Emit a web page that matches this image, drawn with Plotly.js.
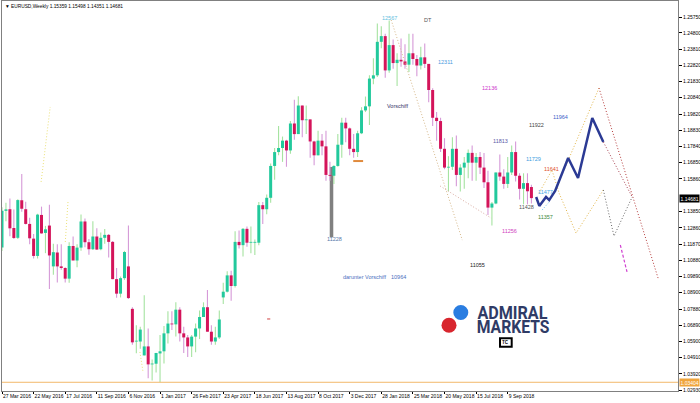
<!DOCTYPE html>
<html><head><meta charset="utf-8">
<script src="https://cdn.plot.ly/plotly-3.0.1.min.js"></script>
<style>html,body{margin:0;padding:0;background:#fff;}#chart{width:700px;height:403px;}</style>
</head><body><div id="chart"></div>
<script>
// ---- Weekly EURUSD candles, week of 27 Mar 2016 .. week of 21 Oct 2018 ----
const opens = [1.1165,1.1390,1.1400,1.1285,1.1225,1.1455,1.1400,1.1310,1.1220,1.1114,
1.1365,1.1255,1.1300,1.1050,1.1135,1.1050,1.1040,1.0975,1.1175,1.1086,
1.1165,1.1325,1.1198,1.1155,1.1233,1.1155,1.1225,1.1243,1.1200,1.0972,
1.0883,1.0978,1.1050,1.0790,1.0590,1.0590,1.0505,1.0560,1.0450,1.0454,
1.0517,1.0530,1.0640,1.0700,1.0695,1.0785,1.0640,1.0615,1.0560,1.0620,
1.0670,1.0740,1.0800,1.0650,1.0590,1.0615,1.0860,1.0895,1.0995,1.0930,
1.1200,1.1180,1.1280,1.1195,1.1195,1.1195,1.1425,1.1400,1.1470,1.1665,
1.1750,1.1775,1.1820,1.1760,1.1925,1.1860,1.2035,1.1945,1.1950,1.1815,
1.1730,1.1820,1.1785,1.1610,1.1605,1.1665,1.1795,1.1930,1.1895,1.1770,
1.1750,1.1865,1.2005,1.2030,1.2200,1.2220,1.2425,1.2460,1.2250,1.2405,
1.2295,1.2315,1.2305,1.2285,1.2355,1.2320,1.2280,1.2330,1.2290,1.2130,
1.1960,1.1940,1.1770,1.1655,1.1660,1.1770,1.1610,1.1655,1.1685,1.1745,
1.1685,1.1720,1.1655,1.1565,1.1410,1.1435,1.1625,1.1600,1.1555,1.1625,
1.1750,1.1605,1.1525,1.1560,1.15359];
const highs = [1.1412,1.1439,1.1465,1.1399,1.1461,1.1616,1.1446,1.1348,1.1249,1.1372,
1.1416,1.1298,1.1428,1.1188,1.1186,1.1185,1.1044,1.1198,1.1233,1.1186,
1.1367,1.1343,1.1218,1.1327,1.1283,1.1257,1.1279,1.1248,1.1206,1.1040,
1.0988,1.1145,1.1300,1.0800,1.0690,1.0680,1.0874,1.0670,1.0480,1.0490,
1.0630,1.0685,1.0775,1.0775,1.0830,1.0800,1.0680,1.0630,1.0630,1.0700,
1.0780,1.0830,1.0906,1.0690,1.0680,1.0780,1.0950,1.1020,1.1023,1.1265,
1.1270,1.1285,1.1295,1.1295,1.1215,1.1445,1.1445,1.1490,1.1680,1.1775,
1.1910,1.1845,1.1825,1.1940,1.2070,1.2092,1.2035,1.2035,1.1950,1.1820,
1.1880,1.1860,1.1880,1.1690,1.1670,1.1860,1.1960,1.1960,1.1900,1.1860,
1.1880,1.2025,1.2090,1.2220,1.2325,1.2537,1.2520,1.2475,1.2555,1.2440,
1.2355,1.2445,1.2410,1.2475,1.2475,1.2345,1.2395,1.2415,1.2290,1.2140,
1.1995,1.1960,1.1835,1.1725,1.1840,1.1852,1.1675,1.1720,1.1765,1.1790,
1.1745,1.1750,1.1745,1.1635,1.1445,1.1625,1.1735,1.1645,1.1720,1.1790,
1.1815,1.1620,1.1620,1.1620,1.15498];
const lows = [1.1144,1.1327,1.1234,1.1218,1.1217,1.1384,1.1306,1.1186,1.1098,1.1098,
1.1250,1.1131,1.0912,1.0999,1.0952,1.1030,1.0952,1.0950,1.1090,1.1045,
1.1146,1.1167,1.1122,1.1150,1.1150,1.1149,1.1188,1.1105,1.0972,1.0858,
1.0860,1.0967,1.0850,1.0570,1.0518,1.0545,1.0505,1.0365,1.0352,1.0400,
1.0340,1.0455,1.0578,1.0660,1.0620,1.0590,1.0520,1.0495,1.0495,1.0525,
1.0605,1.0740,1.0650,1.0570,1.0570,1.0605,1.0820,1.0890,1.0840,1.0920,
1.1160,1.1110,1.1170,1.1130,1.1120,1.1180,1.1310,1.1370,1.1440,1.1580,
1.1730,1.1690,1.1660,1.1740,1.1825,1.1860,1.1840,1.1860,1.1715,1.1670,
1.1730,1.1730,1.1575,1.1575,1.1554,1.1660,1.1715,1.1810,1.1730,1.1715,
1.1720,1.1860,1.1995,1.1915,1.2165,1.2210,1.2385,1.2205,1.2235,1.2260,
1.2155,1.2272,1.2260,1.2240,1.2285,1.2215,1.2255,1.2265,1.2055,1.1910,
1.1820,1.1750,1.1645,1.1510,1.1640,1.1540,1.1508,1.1525,1.1590,1.1575,
1.1575,1.1615,1.1530,1.1365,1.1301,1.1430,1.1575,1.1525,1.1530,1.1610,
1.1570,1.1460,1.1430,1.1430,1.14351];
const closes = [1.1390,1.1399,1.1283,1.1224,1.1456,1.1403,1.1310,1.1222,1.1114,1.1367,
1.1252,1.1277,1.1117,1.1137,1.1050,1.1040,1.0975,1.1175,1.1086,1.1165,
1.1325,1.1198,1.1155,1.1233,1.1153,1.1225,1.1243,1.1200,1.0972,1.0883,
1.0978,1.1138,1.0856,1.0585,1.0590,1.0663,1.0560,1.0450,1.0454,1.0520,
1.0530,1.0640,1.0700,1.0695,1.0785,1.0640,1.0615,1.0560,1.0620,1.0670,
1.0740,1.0800,1.0650,1.0590,1.0615,1.0725,1.0895,1.0995,1.0930,1.1200,
1.1180,1.1280,1.1195,1.1195,1.1195,1.1425,1.1400,1.1470,1.1665,1.1750,
1.1775,1.1820,1.1760,1.1925,1.1860,1.2035,1.1945,1.1950,1.1815,1.1730,
1.1820,1.1785,1.1610,1.1605,1.1665,1.1795,1.1930,1.1895,1.1770,1.1750,
1.1865,1.2005,1.2030,1.2200,1.2220,1.2425,1.2460,1.2250,1.2405,1.2295,
1.2315,1.2305,1.2285,1.2355,1.2320,1.2280,1.2330,1.2290,1.2130,1.1960,
1.1940,1.1770,1.1655,1.1660,1.1770,1.1610,1.1655,1.1685,1.1745,1.1685,
1.1720,1.1655,1.1565,1.1410,1.1435,1.1625,1.1600,1.1555,1.1625,1.1750,
1.1605,1.1525,1.1560,1.1510,1.14681];

const dateLabels = ["27 Mar 2016","22 May 2016","17 Jul 2016","11 Sep 2016","6 Nov 2016","1 Jan 2017",
"26 Feb 2017","23 Apr 2017","18 Jun 2017","13 Aug 2017","8 Oct 2017","3 Dec 2017","28 Jan 2018",
"25 Mar 2018","20 May 2018","15 Jul 2018","9 Sep 2018"];
const weeksPerLabel = 8;
const priceTicks = [1.25750,1.24800,1.23810,1.22820,1.21830,1.20840,1.19820,1.18830,1.17840,1.16850,
1.15860,1.13850,1.12860,1.11870,1.10880,1.09890,1.08900,1.07880,1.06890,1.05900,1.04910,1.03920,1.02930];
const lastPrice = 1.14681;
const supportLevel = 1.03404;
const header = "▼ EURUSD,Weekly 1.15359 1.15498 1.14351 1.14681";

// grey target zone bar
const zoneBar = [83.4], zoneLow = [1.1228], zoneHigh = [1.1659];
// small marks
const orangeMarkX = [88.9, 91.4], orangeMarkY = [1.1695, 1.1695];
const redMarkX = [67.1, 67.9], redMarkY = [1.0728, 1.0728];

// drawn analysis lines (bar index, price)
const navyX = [135.2,136.0,137.7,138.5,140.0,143.3,145.8,149.4,152.2];
const navyY = [1.1475,1.1420,1.1475,1.1456,1.1512,1.1714,1.1591,1.1959,1.1812];
const peakLineX = [98.5,116.5], peakLineY = [1.2559,1.1211];
const lowLineX = [110.9,123.8], lowLineY = [1.1542,1.1346];
const goldAX = [135.9,139.2,141.0,145.3,152.2], goldAY = [1.1499,1.1640,1.1499,1.1254,1.1518];
const goldBX = [140.0,151.1], goldBY = [1.1512,1.2142];
const maroonAX = [151.1,166.1], maroonAY = [1.2142,1.0975];
const maroonBX = [152.2,159.5], maroonBY = [1.1812,1.1475];
const greyVX = [152.2,154.9,159.5], greyVY = [1.1518,1.1236,1.1475];
const magentaX = [156.5,158.2], magentaY = [1.1181,1.1016];
const cyanX = [136.7,138.7], cyanY = [1.1395,1.1450];
const yellow1X = [9.9,12.2], yellow1Y = [1.1567,1.2026];
const yellow2X = [16.7,16.0], yellow2Y = [1.1444,1.1193];
const yellow3X = [34.9,35.7], yellow3Y = [1.0526,1.0403];

// level labels
const labelText = ["12567","DT","12311","12136","Vorschiff","11922","11964","11813","11729","11641",
"11477","11428","11357","11256","11055","11228","darunter Vorschiff","10964"];
const labelX = [98.2,107.9,112.2,123.3,100.0,135.4,141.3,126.1,134.4,139.2,137.5,132.7,137.5,128.4,120.3,84.1,91.7,100.3];
const labelY = [1.2571,1.2559,1.2302,1.2142,1.2032,1.1916,1.1965,1.1818,1.1708,1.1646,1.1505,1.1414,1.1352,1.1267,1.1058,1.1218,1.0985,1.0985];
const labelColor = ["#5fc0e0","#555555","#4a9ade","#cc33cc","#333366","#444444","#4060c8","#5a5aa8","#3b9be0","#e0502a",
"#47a8e6","#555555","#3c8a3c","#d040c0","#222222","#5577aa","#4a6fc0","#4a6fc0"];

// ---- build traces ----
const idx = opens.map((_, i) => i);
const up = opens.map((o, i) => closes[i] >= o);
const wickColors = up.map(u => u ? "#a6e3a1" : "#d69ad8");
const bodyColors = up.map(u => u ? "#22c99c" : "#d4145a");
const bodyBase = opens.map((o, i) => Math.min(o, closes[i]));
const bodyH = opens.map((o, i) => Math.max(Math.abs(closes[i] - o), 0.0005));
const wickH = highs.map((h, i) => h - lows[i]);

function dotted(x, y, color, dash, width) {
  return {type:"scatter", mode:"lines", x:x, y:y, hoverinfo:"skip",
    line:{color:color, width:width || 1, dash:dash || "1px,2px"}};
}

const traces = [
  {type:"bar", x:zoneBar, base:zoneLow, y:zoneHigh.map((h,i)=>h-zoneLow[i]), width:0.9,
   marker:{color:"#808080", line:{width:0}}, hoverinfo:"skip"},
  {type:"bar", x:idx, base:lows, y:wickH, width:0.28, marker:{color:wickColors, line:{width:0}}, hoverinfo:"skip"},
  {type:"bar", x:idx, base:bodyBase, y:bodyH, width:0.76, marker:{color:bodyColors, line:{width:0}}, hoverinfo:"skip"},
  dotted(yellow1X, yellow1Y, "#ece27a"),
  dotted(yellow2X, yellow2Y, "#ece27a"),
  dotted(yellow3X, yellow3Y, "#ece27a"),
  dotted(peakLineX, peakLineY, "#d6b88a"),
  dotted(lowLineX, lowLineY, "#d9aaa0"),
  dotted(goldAX, goldAY, "#e2b548"),
  dotted(goldBX, goldBY, "#e2b548"),
  dotted(maroonAX, maroonAY, "#b53a3a"),
  dotted(maroonBX, maroonBY, "#a8404f"),
  dotted(greyVX, greyVY, "#666666"),
  dotted(magentaX, magentaY, "#d040d0", "3px,2px", 1.2),
  dotted(cyanX, cyanY, "#5cc0f0"),
  {type:"scatter", mode:"lines", x:orangeMarkX, y:orangeMarkY, hoverinfo:"skip", line:{color:"#e08a3c", width:2}},
  {type:"scatter", mode:"lines", x:redMarkX, y:redMarkY, hoverinfo:"skip", line:{color:"#d04040", width:1}},
  {type:"scatter", mode:"lines", x:navyX, y:navyY, hoverinfo:"skip", line:{color:"#2b3a94", width:2.5}}
];

// pixel helpers for decorative layout items (plot area: x 2..678, y 1..391)
const PX = p => (p - 2) / 676;
const PY = p => (391 - p) / 390;
const F = "Liberation Sans, Arial, sans-serif";
const LOGO_FONT = "Roboto, Liberation Sans, sans-serif";

const annotations = labelText.map((t, i) => ({
  x: labelX[i], y: labelY[i], xref:"x", yref:"y", text:t, showarrow:false,
  font:{family:F, size:5.5, color:labelColor[i]}
}));
annotations.push(
  {xref:"paper", yref:"paper", x:0, y:1, xanchor:"left", yanchor:"top", xshift:1, yshift:-1,
   text:header, showarrow:false, font:{family:F, size:4.8, color:"#000"}},
  {xref:"paper", yref:"y", x:1, y:lastPrice, xanchor:"left", xshift:1, text:lastPrice.toFixed(5),
   showarrow:false, bgcolor:"#000", borderpad:0.5, font:{family:F, size:5, color:"#fff"}},
  {xref:"paper", yref:"y", x:1, y:supportLevel, xanchor:"left", xshift:1, text:supportLevel.toFixed(5),
   showarrow:false, bgcolor:"#f0a53c", borderpad:0.5, font:{family:F, size:5, color:"#fff"}},
  {xref:"paper", yref:"paper", x:PX(512), y:PY(312.5), xanchor:"center", yanchor:"middle", text:"ADMIRAL",
   showarrow:false, font:{family:LOGO_FONT, size:18.6, color:"#2f3b66", weight:700}},
  {xref:"paper", yref:"paper", x:PX(513.3), y:PY(326.5), xanchor:"center", yanchor:"middle", text:"MARKETS",
   showarrow:false, font:{family:LOGO_FONT, size:18.6, color:"#2f3b66", weight:700}},
  {xref:"paper", yref:"paper", x:PX(505.9), y:PY(342.5), xanchor:"center", yanchor:"middle", text:"TC", showarrow:false,
   font:{family:F, size:4.5, color:"#000", weight:700}}
);

const shapes = [
  {type:"line", xref:"paper", x0:0, x1:1, yref:"y", y0:supportLevel, y1:supportLevel, line:{color:"#f3b86a", width:1}},
  {type:"circle", xref:"paper", yref:"paper", x0:PX(441.5), x1:PX(456.5), y0:PY(332.8), y1:PY(317.8),
   fillcolor:"#d8262e", line:{width:0}},
  {type:"circle", xref:"paper", yref:"paper", x0:PX(453.3), x1:PX(468.3), y0:PY(320), y1:PY(305),
   fillcolor:"#2a7de1", line:{width:0}},
  {type:"rect", xref:"paper", yref:"paper", x0:PX(500), x1:PX(511.7), y0:PY(346.7), y1:PY(338.3),
   fillcolor:"rgba(255,255,255,0)", line:{color:"#000", width:2}}
];

const layout = {
  width:700, height:403, margin:{l:2, r:22, t:1, b:12},
  paper_bgcolor:"#fff", plot_bgcolor:"#fff", showlegend:false, hovermode:false,
  barmode:"overlay",
  xaxis:{range:[0, 171.1], showgrid:false, zeroline:false, showline:true, mirror:true, linecolor:"#808080", linewidth:1,
    tickvals:dateLabels.map((_, k) => k * weeksPerLabel), ticktext:dateLabels, ticks:"outside", ticklen:2, tickcolor:"#000",
    tickangle:0, ticklabelposition:"outside right", tickfont:{family:F, size:5, color:"#000"}, fixedrange:true},
  yaxis:{range:[1.0287, 1.2675], side:"right", showgrid:false, zeroline:false, showline:true, mirror:true,
    linecolor:"#808080", linewidth:1, tickvals:priceTicks, ticktext:priceTicks.map(v => v.toFixed(5)),
    ticks:"outside", ticklen:3, tickcolor:"#000", tickfont:{family:F, size:5, color:"#000"}, fixedrange:true},
  annotations:annotations, shapes:shapes
};

Plotly.newPlot("chart", traces, layout, {staticPlot:true, displayModeBar:false}).then(() => {
  // condense the logo wordmark to its narrow width
  const widths = {"ADMIRAL": 70, "MARKETS": 72.7};
  document.querySelectorAll("#chart text.annotation-text").forEach(el => {
    const w = widths[el.textContent];
    if (w) { el.setAttribute("textLength", w); el.setAttribute("lengthAdjust", "spacingAndGlyphs"); }
  });
});
</script></body></html>
